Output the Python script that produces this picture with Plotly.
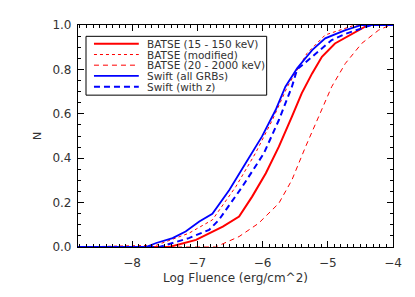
import plotly.graph_objects as go

# ---- data ----
batse_15_150_x = [-8.83, -7.43, -7.02, -6.61, -6.36, -6.16, -5.95, -5.75, -5.55, -5.40, -5.24, -5.09, -4.89, -4.63, -4.38, -4.0]
batse_15_150_y = [0.0, 0.0, 0.032, 0.092, 0.137, 0.227, 0.332, 0.452, 0.587, 0.692, 0.782, 0.857, 0.917, 0.96, 1.0, 1.0]

batse_mod_x = [-8.83, -7.63, -7.13, -6.77, -6.41, -6.11, -5.85, -5.62, -5.32, -5.04, -4.58, -4.0]
batse_mod_y = [0.0, 0.008, 0.062, 0.122, 0.272, 0.422, 0.572, 0.722, 0.872, 0.955, 1.0, 1.0]

batse_20_2000_x = [-8.83, -6.72, -6.36, -6.06, -5.75, -5.55, -5.34, -5.14, -4.94, -4.73, -4.48, -4.22, -4.04, -4.0]
batse_20_2000_y = [0.0, 0.0, 0.047, 0.107, 0.197, 0.302, 0.452, 0.587, 0.722, 0.827, 0.917, 0.977, 1.0, 1.0]

swift_all_x = [-8.83, -7.79, -7.63, -7.38, -7.18, -6.97, -6.77, -6.51, -6.26, -6.01, -5.80, -5.65, -5.47, -5.24, -5.04, -4.73, -4.48, -4.0]
swift_all_y = [0.0, 0.0, 0.018, 0.04, 0.07, 0.115, 0.15, 0.257, 0.377, 0.497, 0.617, 0.722, 0.805, 0.887, 0.94, 0.977, 1.0, 1.0]

swift_z_x = [-8.83, -7.58, -7.13, -6.82, -6.67, -6.31, -5.98, -5.75, -5.55, -5.47, -5.24, -4.94, -4.73, -4.33, -4.0]
swift_z_y = [0.0, 0.0, 0.04, 0.077, 0.122, 0.272, 0.422, 0.572, 0.722, 0.80, 0.857, 0.932, 0.96, 1.0, 1.0]

legend_labels = ["BATSE (15 - 150 keV)", "BATSE (modified)", "BATSE (20 - 2000 keV)",
                 "Swift (all GRBs)", "Swift (with z)"]

x_ticks = [-8, -7, -6, -5, -4]
y_ticks = [0.0, 0.2, 0.4, 0.6, 0.8, 1.0]

RED = "rgb(255,0,0)"
BLUE = "rgb(0,0,255)"
styles = [
    dict(color=RED, width=2, dash="solid"),
    dict(color=RED, width=1, dash="dot"),
    dict(color=RED, width=1, dash="5px,4px"),
    dict(color=BLUE, width=1.8, dash="solid"),
    dict(color=BLUE, width=2, dash="6px,4px"),
]
series = [
    (batse_15_150_x, batse_15_150_y),
    (batse_mod_x, batse_mod_y),
    (batse_20_2000_x, batse_20_2000_y),
    (swift_all_x, swift_all_y),
    (swift_z_x, swift_z_y),
]

fig = go.Figure()
for (xs, ys), st, name in zip(series, styles, legend_labels):
    fig.add_trace(go.Scatter(x=xs, y=ys, mode="lines", line=st, name=name,
                             showlegend=False, cliponaxis=True))

FONT = "DejaVu Sans, sans-serif"
TXT = "rgb(50,50,50)"

# page body has an 8px default margin, so the figure is offset by (8, 8)
fig.update_layout(
    width=407, height=289,
    margin=dict(l=70, r=21.5, t=16.7, b=49.8),
    paper_bgcolor="white", plot_bgcolor="white",
    font=dict(family=FONT, size=12, color=TXT),
    showlegend=False,
)
fig.update_xaxes(
    range=[-8.83, -4.0], tickvals=x_ticks, ticks="inside", ticklen=6, tickwidth=1,
    tickcolor="black", showline=True, linecolor="black", linewidth=1.2, mirror="ticks",
    showgrid=False, zeroline=False, tickfont=dict(size=12, color=TXT), automargin=False,
    ticklabelstandoff=4,
    minor=dict(dtick=0.1, ticks="inside", ticklen=3, tickcolor="black", showgrid=False),
    title=dict(text="Log Fluence (erg/cm^2)", font=dict(size=12, color=TXT), standoff=5),
)
fig.update_yaxes(
    range=[0.0, 1.0], tickvals=y_ticks, tickformat=".1f", ticks="inside", ticklen=6,
    tickwidth=1, tickcolor="black", showline=True, linecolor="black", linewidth=1.2,
    mirror="ticks", showgrid=False, zeroline=False, tickfont=dict(size=12, color=TXT),
    automargin=False, ticklabelstandoff=3,
    minor=dict(dtick=0.05, ticks="inside", ticklen=3, tickcolor="black", showgrid=False),
)
# y-axis title placed explicitly
fig.add_annotation(xref="paper", yref="paper", x=-0.13, y=0.5, text="N", textangle=-90,
                   showarrow=False, xanchor="center", yanchor="middle",
                   font=dict(size=11, color=TXT, family=FONT))

# manual legend (box, line samples, labels)
fig.add_shape(type="rect", xref="paper", yref="paper", x0=0.0254, x1=0.599, y0=0.684, y1=0.949,
              line=dict(color="black", width=1), fillcolor="white", layer="above")
row_y = [0.916, 0.867, 0.819, 0.771, 0.722]
for ry, st, lab in zip(row_y, styles, legend_labels):
    fig.add_shape(type="line", xref="paper", yref="paper", x0=0.0507, x1=0.193, y0=ry, y1=ry,
                  line=st, layer="above")
    fig.add_annotation(xref="paper", yref="paper", x=0.215, y=ry, text=lab, showarrow=False,
                       xanchor="left", yanchor="middle", borderpad=0,
                       font=dict(size=10.5, color=TXT, family=FONT))

fig.write_html("out.html")
